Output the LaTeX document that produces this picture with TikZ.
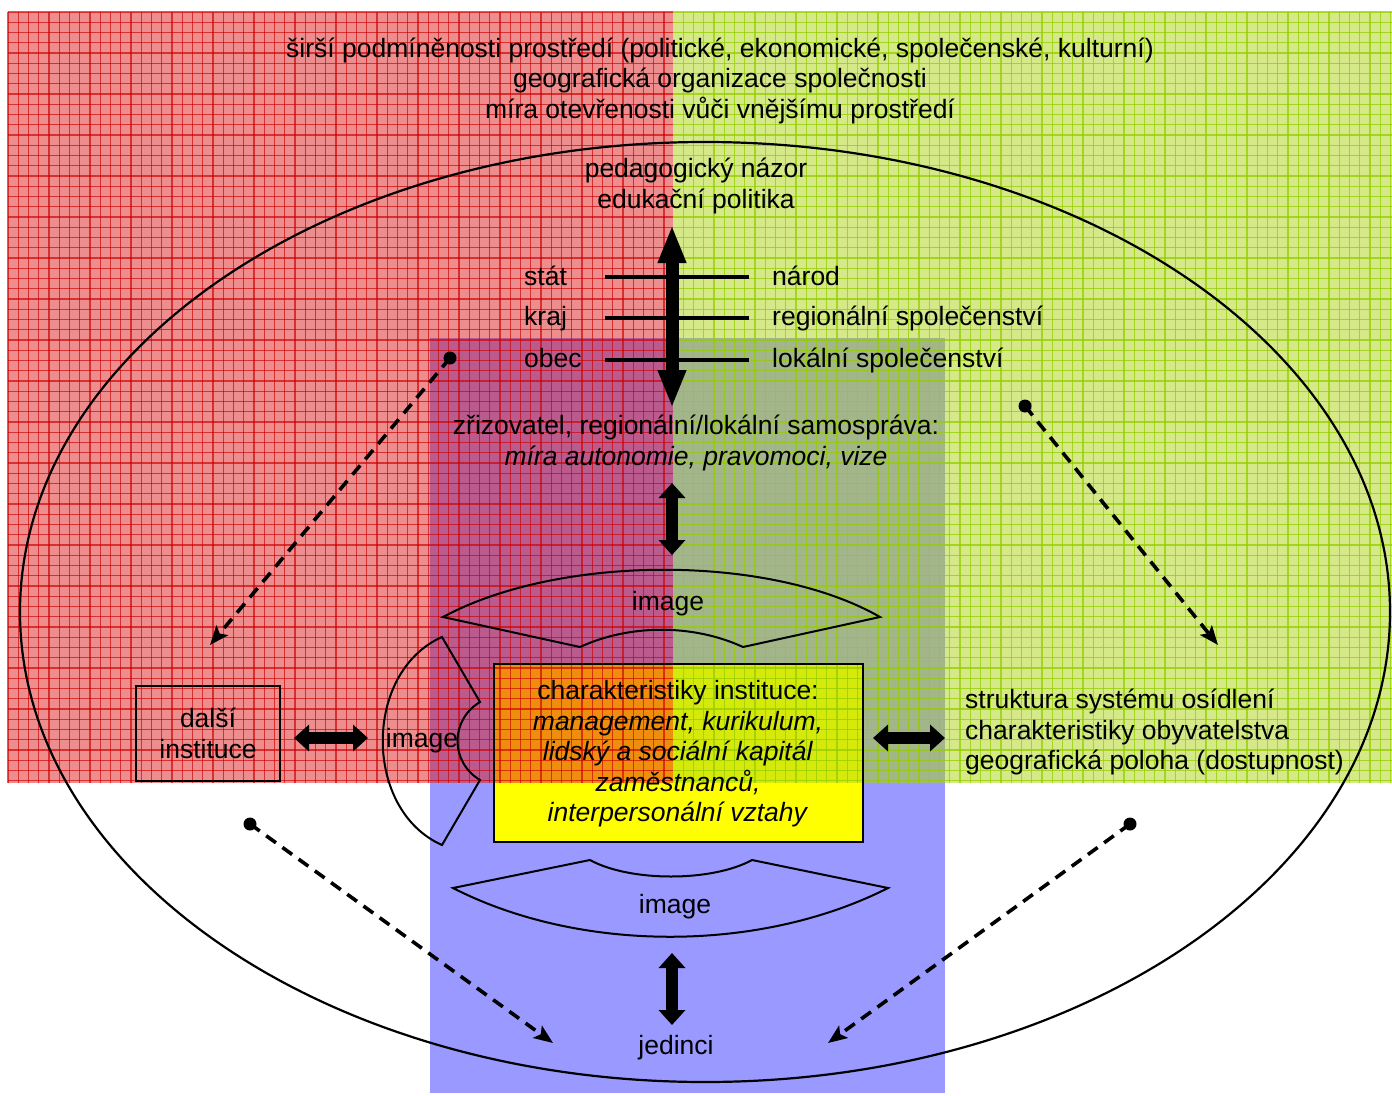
\documentclass[tikz,border=0pt]{standalone}
\usepackage{fontspec}
\setmainfont{Liberation Sans}
\usetikzlibrary{arrows.meta}
\definecolor{redf}{RGB}{222,28,28}
\definecolor{redgrid}{RGB}{205,0,0}
\definecolor{greenf}{RGB}{172,212,20}
\definecolor{greengrid}{RGB}{150,205,0}
\definecolor{bluef}{RGB}{153,153,255}
\definecolor{yellowf}{RGB}{255,255,0}
\begin{document}
\begin{tikzpicture}[x=1pt,y=-1pt,
  every node/.style={font=\fontsize{26.5}{30.5}\selectfont, inner sep=0pt},
  lbl/.style={text height=19pt, text depth=5.5pt},
  bigarrow/.style={line width=13pt, {Triangle[width=26pt,length=38pt]}-{Triangle[width=26pt,length=38pt]}},
  medarrow/.style={line width=12pt, {Triangle[width=26pt,length=15pt]}-{Triangle[width=26pt,length=15pt]}},
  dasharrow/.style={line width=3.6pt, dash pattern=on 12pt off 8pt, -{Stealth[length=19pt,width=15pt,inset=4pt]}},
  levelline/.style={line width=4pt},
  imgshape/.style={line width=2pt, line join=miter},
  gridred/.style={redgrid, line width=1.1pt, opacity=0.65},
  gridgreen/.style={greengrid, line width=1.1pt, opacity=0.75}]
\useasboundingbox (0,0) rectangle (1392,1095);

% base layers
\fill[bluef] (430,338) rectangle (945,1093);
\fill[yellowf] (494,664) rectangle (863,842);

% red overlay
\fill[redf, opacity=0.5] (8,12) rectangle (673,783);
\foreach \x in {8,18.25,...,670} \draw[gridred] (\x,12) -- (\x,783);
\foreach \y in {12,22.25,...,783} \draw[gridred] (8,\y) -- (673,\y);
% green overlay
\fill[greenf, opacity=0.5] (673,12) rectangle (1392,783);
\foreach \x in {683.25,693.5,...,1392} \draw[gridgreen] (\x,12) -- (\x,783);
\foreach \y in {12,22.25,...,783} \draw[gridgreen] (673,\y) -- (1392,\y);

% ellipse
\draw[line width=2.2pt] (705,612) ellipse [x radius=685pt, y radius=470pt];

% top texts
\node[align=center] (env) at (720,80.5) {širší podmíněnosti prostředí (politické, ekonomické, společenské, kulturní)\\geografická organizace společnosti\\míra otevřenosti vůči vnějšímu prostředí};
\node[align=center] (ped) at (696,186) {pedagogický názor\\edukační politika};

% levels
\node[lbl, anchor=west] (stat) at (524,279) {stát};
\node[lbl, anchor=west] (kraj) at (524,319) {kraj};
\node[lbl, anchor=west] (obec) at (524,361) {obec};
\node[lbl, anchor=west] (narod) at (772,279) {národ};
\node[lbl, anchor=west] (reg) at (772,319) {regionální společenství};
\node[lbl, anchor=west] (lok) at (772,361) {lokální společenství};
\coordinate (l1a) at (605,277); \coordinate (l1b) at (749,277);
\coordinate (l2a) at (605,318); \coordinate (l2b) at (749,318);
\coordinate (l3a) at (605,360); \coordinate (l3b) at (749,360);
\draw[levelline] (l1a) -- (l1b);
\draw[levelline] (l2a) -- (l2b);
\draw[levelline] (l3a) -- (l3b);

\coordinate (bigtop) at (672,225);
\coordinate (bigbot) at (672,408);
\draw[bigarrow] (bigtop) -- (bigbot);

\node[align=center] (zriz) at (696,443) {zřizovatel, regionální/lokální samospráva:\\\textit{míra autonomie, pravomoci, vize}};

\coordinate (a1t) at (672,483); \coordinate (a1b) at (672,555);
\draw[medarrow] (a1t) -- (a1b);

% image shapes
\draw[imgshape] (443,617) .. controls (560,554) and (770,554) .. (880,617)
  -- (743,647) .. controls (693,624) and (630,624) .. (580,647) -- cycle;
\node (imgtop) at (668,604) {image};

\draw[imgshape] (442,637) .. controls (363,672) and (363,810) .. (442,845)
  -- (480,780) .. controls (450,762) and (450,720) .. (480,702) -- cycle;
\node (imgleft) at (422,741) {image};

\draw[imgshape] (453,888) -- (590,860) .. controls (630,882) and (712,882) .. (752,860)
  -- (888,888) .. controls (760,953) and (580,953) .. (453,888) -- cycle;
\node (imgbot) at (675,907) {image};

% institution box
\node[draw, line width=2.5pt, minimum width=369pt, minimum height=178pt] (instbox) at (678.5,753) {};
\node[align=center] (inst) at (678,754) {charakteristiky instituce:\\\textit{management, kurikulum,}\\\textit{lidský a sociální kapitál}\\\textit{zaměstnanců,}\\\textit{interpersonální vztahy}};

% další instituce
\node[draw, line width=2.5pt, minimum width=144pt, minimum height=95pt, align=center] (dalsi) at (208,733.5) {další\\instituce};
\coordinate (h1a) at (294,738); \coordinate (h1b) at (368,738);
\draw[medarrow] (h1a) -- (h1b);

% right text
\node[align=left, anchor=west] (sidl) at (965,732) {struktura systému osídlení\\charakteristiky obyvatelstva\\geografická poloha (dostupnost)};
\coordinate (h2a) at (873,738); \coordinate (h2b) at (945,738);
\draw[medarrow] (h2a) -- (h2b);

% jedinci
\node[lbl] (jed) at (676,1048) {jedinci};
\coordinate (a2t) at (672,953); \coordinate (a2b) at (672,1025);
\draw[medarrow] (a2t) -- (a2b);

% dashed arrows
\coordinate (d1) at (450,358); \coordinate (t1) at (210,645);
\coordinate (d2) at (1025,406); \coordinate (t2) at (1218,645);
\coordinate (d3) at (250,824); \coordinate (t3) at (553,1043);
\coordinate (d4) at (1130,824); \coordinate (t4) at (828,1043);
\foreach \i in {1,2,3,4} {
  \fill (d\i) circle (6.5pt);
  \draw[dasharrow] (d\i) -- (t\i);
}
\end{tikzpicture}
\end{document}
